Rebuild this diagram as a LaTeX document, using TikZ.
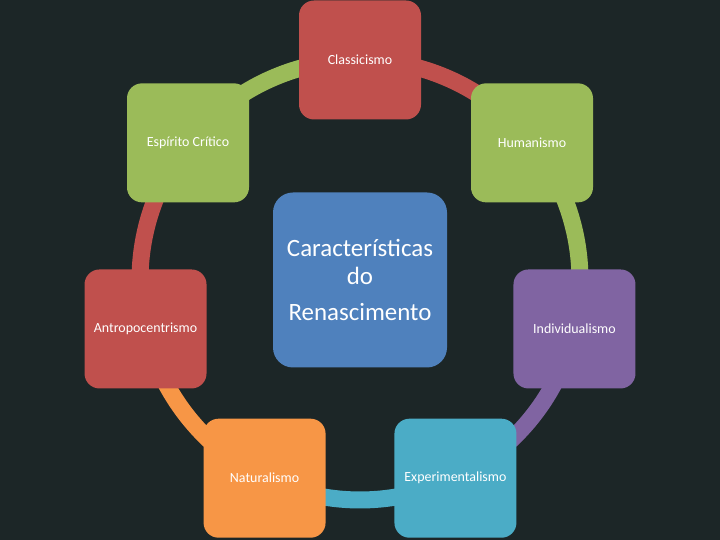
\documentclass[tikz,border=0pt]{standalone}
\usepackage{fontspec}
\setmainfont{Carlito}
\usetikzlibrary{calc}
\definecolor{bgdark}{HTML}{1C2627}
\definecolor{renred}{HTML}{C0504D}
\definecolor{rengreen}{HTML}{9BBB59}
\definecolor{renpurple}{HTML}{8064A2}
\definecolor{renteal}{HTML}{4BACC6}
\definecolor{renorange}{HTML}{F79646}
\definecolor{renblue}{HTML}{4F81BD}

\begin{document}
\begin{tikzpicture}[x=1bp, y=1bp,
    item/.style={rounded corners=15bp, minimum width=122bp, minimum height=119bp,
      inner sep=0pt, text=white, font=\fontsize{14}{16}\selectfont},
    ring/.style={line width=17bp}]
        % Background
        \fill[bgdark] (0,0) rectangle (720,540);
        \useasboundingbox (0,0) rectangle (720,540);

        % Positions on the ring
        \foreach \name/\ang in {cl/90, hu/38.57, in/-12.86, ex/-64.29, na/-115.71, an/-167.14, es/-218.57} {
          \coordinate (\name) at ($(360,260)+(\ang:220)$);
        }

        % Ring arcs, clockwise from each item
        \foreach \name/\ang/\col in {cl/90/renred, hu/38.57/rengreen, in/-12.86/renpurple, ex/-64.29/renteal, na/-115.71/renorange, an/-167.14/renred, es/-218.57/rengreen} {
          \draw[ring, \col] (\name) arc[start angle=\ang, end angle=\ang-51.43, radius=220];
        }

        % Items
        \foreach \name/\col/\txt in {cl/renred/Classicismo, hu/rengreen/Humanismo, in/renpurple/Individualismo, ex/renteal/Experimentalismo, na/renorange/Naturalismo, an/renred/Antropocentrismo, es/rengreen/Espírito Crítico} {
          \node[item, fill=\col] (\name-box) at (\name) {\txt};
        }

        % Centre
        \node[rounded corners=20bp, fill=renblue, text=white, minimum width=174bp, minimum height=175bp,
          align=center, font=\fontsize{25}{28}\selectfont] (centre) at (360,260)
          {Características\\do\\[9bp]Renascimento};
      \end{tikzpicture}
\end{document}
